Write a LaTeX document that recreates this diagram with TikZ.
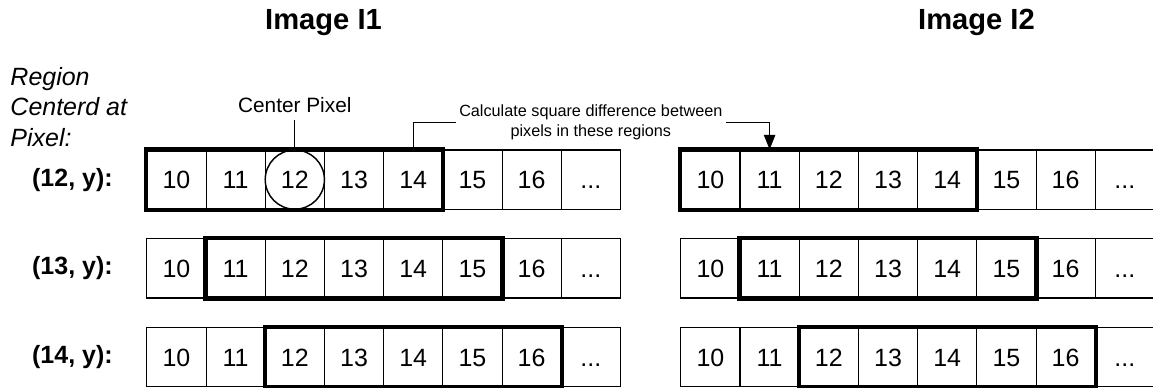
\documentclass[tikz,border=0pt]{standalone}
\usepackage{fontspec}
\setmainfont{Liberation Sans}
\usetikzlibrary{arrows.meta,positioning}

\begin{document}
\begin{tikzpicture}
		[pixel/.style={shape=rectangle,draw,line width=.5pt,minimum width=1cm,minimum height=1cm,inner sep=0pt,text height=8.6pt,text depth=0pt,font=\fontsize{12}{14}\selectfont},
		region/.style={draw,line width=2pt},
		title/.style={font=\fontsize{14}{16}\selectfont\bfseries},
		rowlabel/.style={anchor=east,inner sep=0pt,font=\fontsize{12}{14}\selectfont\bfseries}]
		\useasboundingbox (0,0) rectangle (19.476,6.554);
		
		\node [title] (img1) at (5.465,6.17) {Image I1};
		\node [title] (img2) at (16.495,6.18) {Image I2};
		
		\node [anchor=west,align=left,inner sep=0pt,font=\fontsize{12}{14.6}\selectfont\itshape] (rgn) at (0.17,4.75) {Region\\Centerd at\\Pixel:};
		
		\node [rowlabel] (lab1) at (1.91,3.52) {(12, y):};
		\node [rowlabel] (lab2) at (1.91,2.02) {(13, y):};
		\node [rowlabel] (lab3) at (1.91,0.52) {(14, y):};
		
		% image I1
		\node [pixel] (a1) at (2.98,3.52) {10};
		\node [pixel] (a2) at (3.98,3.52) {11};
		\node [pixel] (a3) at (4.98,3.52) {12};
		\node [pixel] (a4) at (5.98,3.52) {13};
		\node [pixel] (a5) at (6.98,3.52) {14};
		\node [pixel] (a6) at (7.98,3.52) {15};
		\node [pixel] (a7) at (8.98,3.52) {16};
		\node [pixel] (a8) at (9.98,3.52) {...};
		
		\node [pixel] (b1) at (2.98,2.02) {10};
		\node [pixel] (b2) at (3.98,2.02) {11};
		\node [pixel] (b3) at (4.98,2.02) {12};
		\node [pixel] (b4) at (5.98,2.02) {13};
		\node [pixel] (b5) at (6.98,2.02) {14};
		\node [pixel] (b6) at (7.98,2.02) {15};
		\node [pixel] (b7) at (8.98,2.02) {16};
		\node [pixel] (b8) at (9.98,2.02) {...};
		
		\node [pixel] (c1) at (2.98,0.52) {10};
		\node [pixel] (c2) at (3.98,0.52) {11};
		\node [pixel] (c3) at (4.98,0.52) {12};
		\node [pixel] (c4) at (5.98,0.52) {13};
		\node [pixel] (c5) at (6.98,0.52) {14};
		\node [pixel] (c6) at (7.98,0.52) {15};
		\node [pixel] (c7) at (8.98,0.52) {16};
		\node [pixel] (c8) at (9.98,0.52) {...};
		
		% image I2
		\node [pixel] (p1) at (12,3.52) {10};
		\node [pixel] (p2) at (13,3.52) {11};
		\node [pixel] (p3) at (14,3.52) {12};
		\node [pixel] (p4) at (15,3.52) {13};
		\node [pixel] (p5) at (16,3.52) {14};
		\node [pixel] (p6) at (17,3.52) {15};
		\node [pixel] (p7) at (18,3.52) {16};
		\node [pixel] (p8) at (19,3.52) {...};
		
		\node [pixel] (q1) at (12,2.02) {10};
		\node [pixel] (q2) at (13,2.02) {11};
		\node [pixel] (q3) at (14,2.02) {12};
		\node [pixel] (q4) at (15,2.02) {13};
		\node [pixel] (q5) at (16,2.02) {14};
		\node [pixel] (q6) at (17,2.02) {15};
		\node [pixel] (q7) at (18,2.02) {16};
		\node [pixel] (q8) at (19,2.02) {...};
		
		\node [pixel] (r1) at (12,0.52) {10};
		\node [pixel] (r2) at (13,0.52) {11};
		\node [pixel] (r3) at (14,0.52) {12};
		\node [pixel] (r4) at (15,0.52) {13};
		\node [pixel] (r5) at (16,0.52) {14};
		\node [pixel] (r6) at (17,0.52) {15};
		\node [pixel] (r7) at (18,0.52) {16};
		\node [pixel] (r8) at (19,0.52) {...};
		
		% regions
		\draw [region] (a1.north west) rectangle (a5.south east);
		\draw [region] (b2.north west) rectangle (b6.south east);
		\draw [region] (c3.north west) rectangle (c7.south east);
		\draw [region] (p1.north west) rectangle (p5.south east);
		\draw [region] (q2.north west) rectangle (q6.south east);
		\draw [region] (r3.north west) rectangle (r7.south east);
		
		\node [shape=circle,draw,line width=.7pt,minimum size=1cm,inner sep=0pt] (ctr) at (a3) {};
		\node [above=0.5cm of ctr,font=\fontsize{10}{12}\selectfont] (cpx) {Center Pixel};
		\draw [line width=.5pt] (ctr.north) -- (cpx.south);
		
		\node [align=center,inner sep=1.5pt,font=\fontsize{7.8}{9.6}\selectfont] (note) at (9.98,4.49) {Calculate square difference between\\pixels in these regions};
		\draw [line width=.5pt] (a5.north) |- (note.west);
		\draw [line width=.5pt,-{Triangle[length=7pt,width=5.5pt]}] (note.east) -| (p2.north);
		
\end{tikzpicture}
\end{document}
